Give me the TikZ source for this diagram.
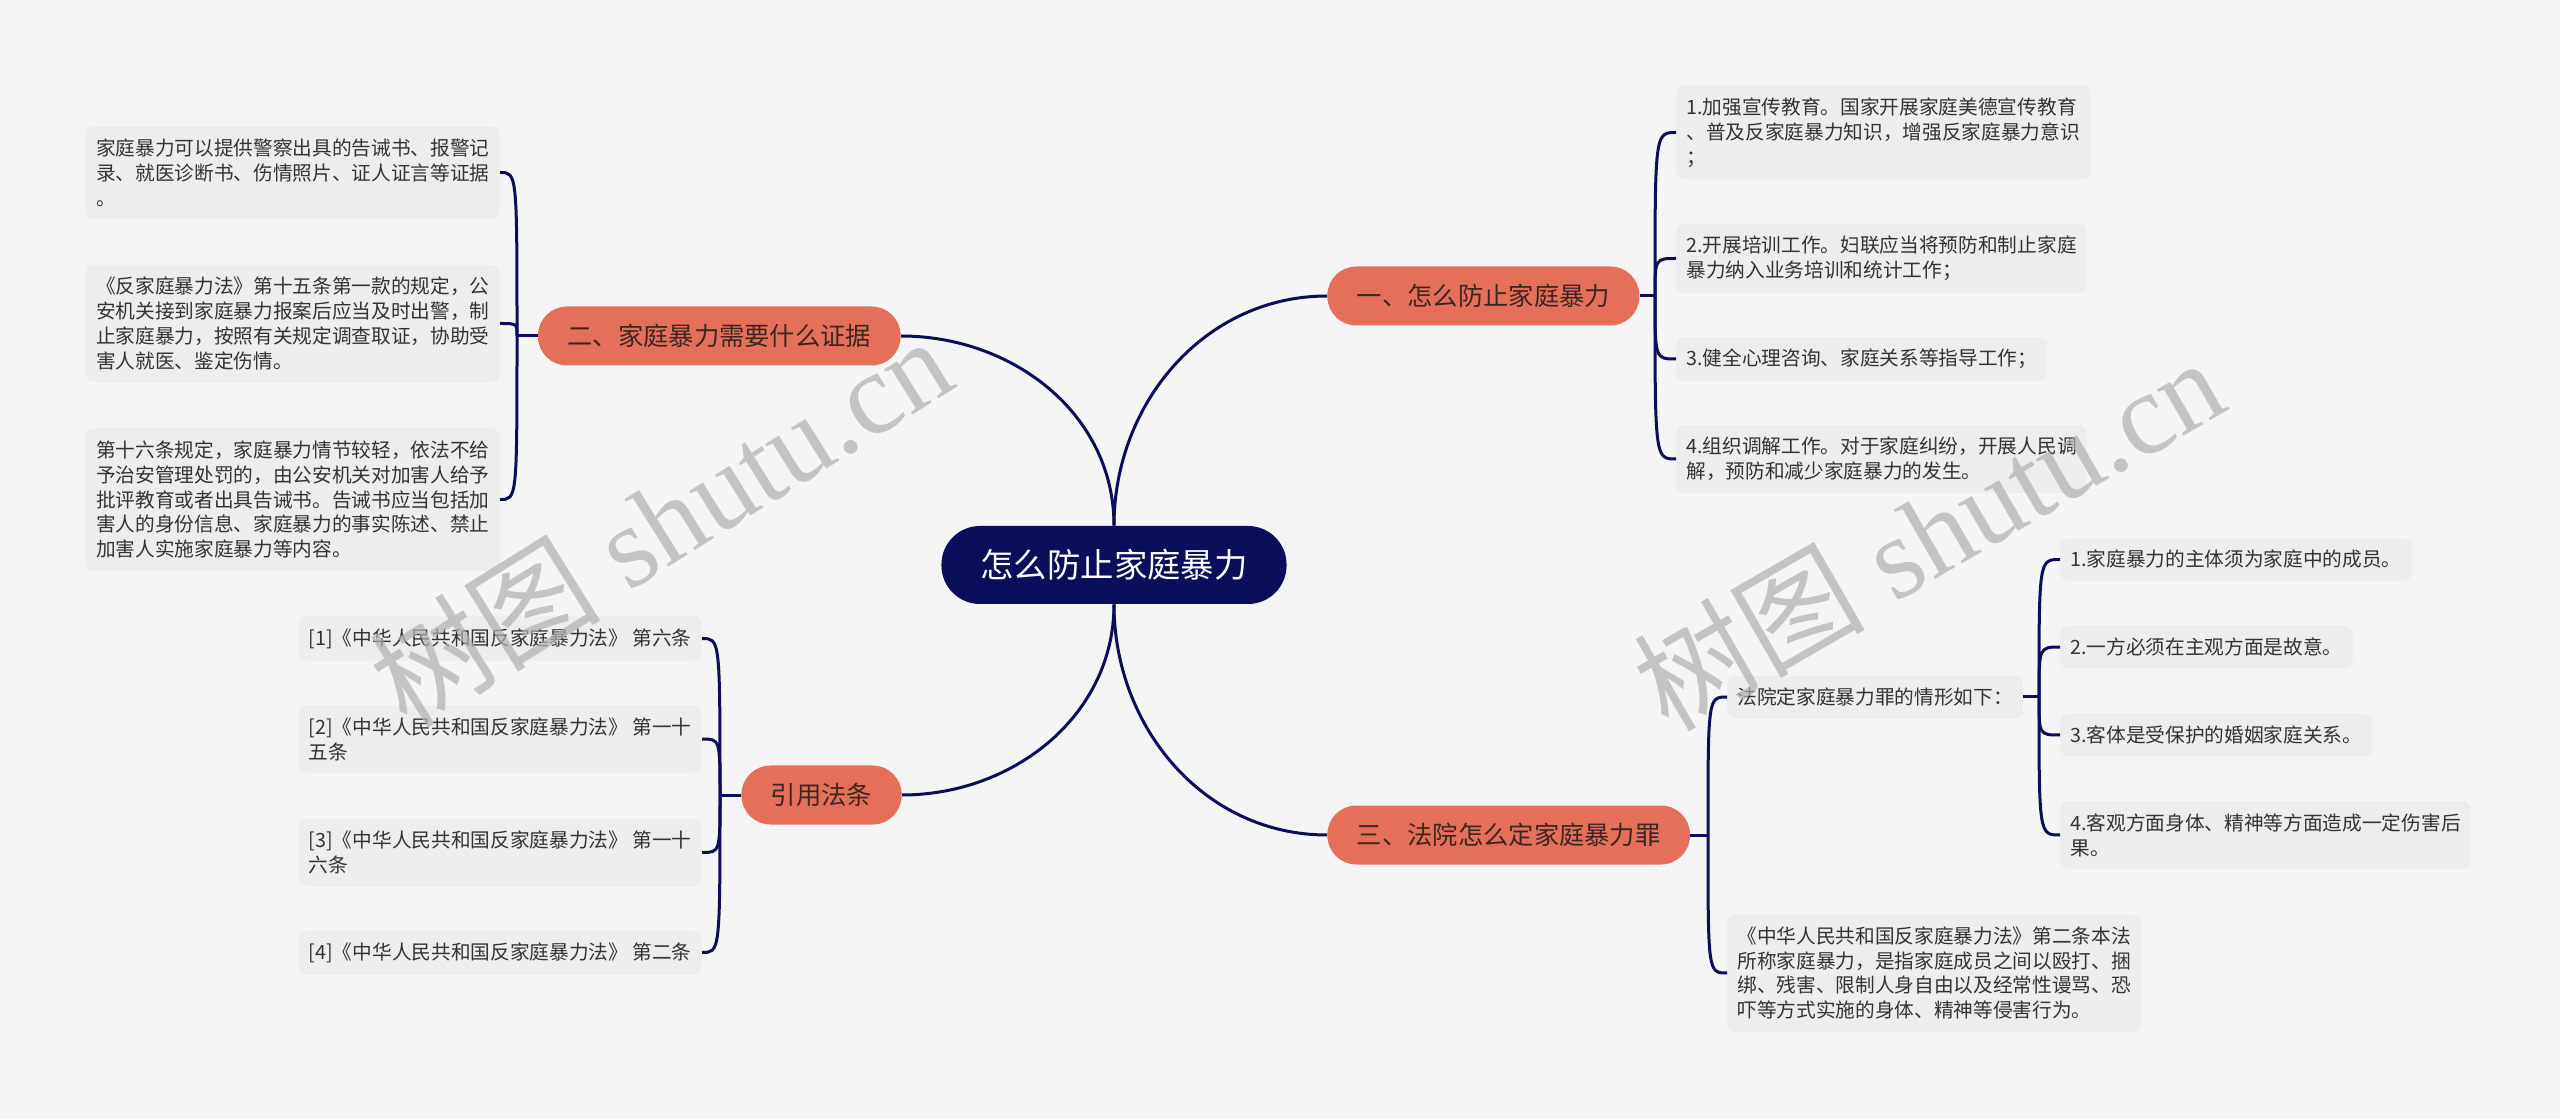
\documentclass[tikz,border=0pt]{standalone}
\usepackage{fontspec}
\usepackage{xcolor}
\usepackage{tikz}
\usetikzlibrary{
  calc,
}
\newfontfamily\cjk{Noto Sans CJK SC}
\newfontfamily\wmserif{Liberation Serif}
\definecolor{pagebg}{HTML}{F5F5F5}
\definecolor{navy}{HTML}{0B0E5A}
\definecolor{salmon}{HTML}{E5705A}
\definecolor{branchtext}{HTML}{3D2620}
\definecolor{leafbg}{HTML}{EDEDED}
\definecolor{leaftext}{HTML}{333333}
\definecolor{wmgray}{HTML}{B0B0B0}
\tikzset{
  link/.style={draw=navy, line width=0.6mm},
  rootnode/.style={
    fill=navy,
    text=white,
    rounded corners=7.7mm,
    minimum height=15.6mm,
    inner xsep=7.8mm,
    font=\cjk\fontsize{19pt}{22pt}\selectfont,
  },
  branch/.style={
    fill=salmon,
    text=branchtext,
    rounded corners=5.8mm,
    minimum height=11.8mm,
    inner xsep=5.9mm,
    font=\cjk\fontsize{14.4pt}{17pt}\selectfont,
  },
  leaf/.style={
    fill=leafbg,
    text=leaftext,
    rounded corners=1.6mm,
    inner xsep=2mm,
    inner ysep=2.4mm,
    align=left,
    font=\cjk\fontsize{11.2pt}{14.2pt}\selectfont,
  },
  watermark/.style={
    text=wmgray,
    text opacity=0.7,
    font=\wmserif\fontsize{66pt}{70pt}\selectfont,
  },
}

\begin{document}
\begin{tikzpicture}[x=0.2mm,y=0.2mm]
  \useasboundingbox (0,0) rectangle (2560,-1119);
  \fill[pagebg] (0,0) rectangle (2560,-1119);

  % centre and the four branches
  \node[rootnode] (root) at (1114,-565) {怎么防止家庭暴力};
  \node[branch, anchor=west] (prev) at (1327,-296) {一、怎么防止家庭暴力};
  \node[branch, anchor=east] (evid) at (901,-336) {二、家庭暴力需要什么证据};
  \node[branch, anchor=east] (law) at (902,-795) {引用法条};
  \node[branch, anchor=west] (court) at (1327,-835) {三、法院怎么定家庭暴力罪};

  \draw[link] (root.north) to[out=90,in=180] (prev.west);
  \draw[link] (root.north) to[out=90,in=0] (evid.east);
  \draw[link] (root.south) to[out=-90,in=0] (law.east);
  \draw[link] (root.south) to[out=-90,in=180] (court.west);

  \coordinate (j1) at (1655,-296);
  \coordinate (j2) at (517,-336);
  \coordinate (j3) at (720,-795);
  \coordinate (j4) at (1708,-835);
  \coordinate (j5) at (2039,-697);
  \draw[link] (prev.east) -- (j1);
  \draw[link] (evid.west) -- (j2);
  \draw[link] (law.west) -- (j3);
  \draw[link] (court.east) -- (j4);

  % 一
  \foreach \nm/\yy/\txt in {
    prev1/132.5/{1.加强宣传教育。国家开展家庭美德宣传教育\\、普及反家庭暴力知识，增强反家庭暴力意识\\；},
    prev2/258.5/{2.开展培训工作。妇联应当将预防和制止家庭\\暴力纳入业务培训和统计工作；},
    prev3/359/{3.健全心理咨询、家庭关系等指导工作；},
    prev4/459/{4.组织调解工作。对于家庭纠纷，开展人民调\\解，预防和减少家庭暴力的发生。}} {
    \node[leaf, anchor=west] (\nm) at (1676,-\yy) {\txt};
    \draw[link] (j1) .. controls (j1 |- \nm.west) .. (\nm.west);
  }

  % 二
  \foreach \nm/\yy/\txt in {
    evid1/172.5/{家庭暴力可以提供警察出具的告诫书、报警记\\录、就医诊断书、伤情照片、证人证言等证据\\。},
    evid2/323.5/{《反家庭暴力法》第十五条第一款的规定，公\\安机关接到家庭暴力报案后应当及时出警，制\\止家庭暴力，按照有关规定调查取证，协助受\\害人就医、鉴定伤情。},
    evid3/499.5/{第十六条规定，家庭暴力情节较轻，依法不给\\予治安管理处罚的，由公安机关对加害人给予\\批评教育或者出具告诫书。告诫书应当包括加\\害人的身份信息、家庭暴力的事实陈述、禁止\\加害人实施家庭暴力等内容。}} {
    \node[leaf, anchor=east] (\nm) at (500,-\yy) {\txt};
    \draw[link] (j2) .. controls (j2 |- \nm.east) .. (\nm.east);
  }

  % 引用法条
  \foreach \nm/\yy/\txt in {
    law1/638.5/{[1]《中华人民共和国反家庭暴力法》 第六条},
    law2/739/{[2]《中华人民共和国反家庭暴力法》 第一十\\五条},
    law3/852.5/{[3]《中华人民共和国反家庭暴力法》 第一十\\六条},
    law4/952.5/{[4]《中华人民共和国反家庭暴力法》 第二条}} {
    \node[leaf, anchor=east] (\nm) at (702,-\yy) {\txt};
    \draw[link] (j3) .. controls (j3 |- \nm.east) .. (\nm.east);
  }

  % 三
  \node[leaf, anchor=west] (court1) at (1727,-697) {法院定家庭暴力罪的情形如下：};
  \node[leaf, anchor=west] (court2) at (1727,-973) {《中华人民共和国反家庭暴力法》第二条本法\\所称家庭暴力，是指家庭成员之间以殴打、捆\\绑、残害、限制人身自由以及经常性谩骂、恐\\吓等方式实施的身体、精神等侵害行为。};
  \draw[link] (j4) .. controls (j4 |- court1.west) .. (court1.west);
  \draw[link] (j4) .. controls (j4 |- court2.west) .. (court2.west);
  \draw[link] (court1.east) -- (j5);

  \foreach \nm/\yy/\txt in {
    crit1/559.5/{1.家庭暴力的主体须为家庭中的成员。},
    crit2/647/{2.一方必须在主观方面是故意。},
    crit3/735/{3.客体是受保护的婚姻家庭关系。},
    crit4/835/{4.客观方面身体、精神等方面造成一定伤害后\\果。}} {
    \node[leaf, anchor=west] (\nm) at (2060,-\yy) {\txt};
    \draw[link] (j5) .. controls (j5 |- \nm.west) .. (\nm.west);
  }

  % watermarks
  \node[watermark, rotate=32] (wm1) at (660,-521) {{\cjk 树图} shutu.cn};
  \node[watermark, rotate=30] (wm2) at (1928,-533) {{\cjk 树图} shutu.cn};
\end{tikzpicture}
\end{document}
